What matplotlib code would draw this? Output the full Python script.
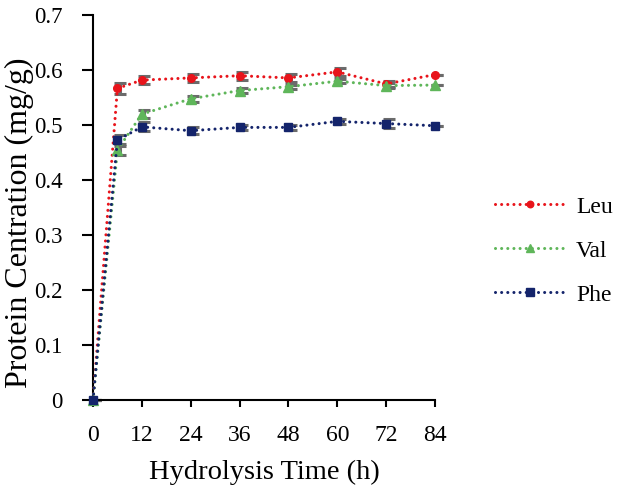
import matplotlib
matplotlib.use("Agg")
import matplotlib.pyplot as plt
import numpy as np

plt.rcParams['font.family'] = ['Liberation Serif', 'DejaVu Serif']

time_h = [0, 6, 12, 24, 36, 48, 60, 72, 84]
leu = [0.0, 0.567, 0.582, 0.586, 0.590, 0.586, 0.597, 0.575, 0.592]
val = [0.0, 0.455, 0.520, 0.548, 0.563, 0.570, 0.580, 0.572, 0.573]
phe = [0.0, 0.473, 0.497, 0.490, 0.496, 0.496, 0.507, 0.503, 0.499]
leu_err = [0.0, 0.010, 0.007, 0.007, 0.007, 0.007, 0.007, 0.005, 0.0]
val_err = [0.0, 0.010, 0.007, 0.005, 0.004, 0.004, 0.004, 0.005, 0.0]
phe_err = [0.0, 0.010, 0.008, 0.006, 0.005, 0.005, 0.005, 0.008, 0.0]
xticks = [0, 12, 24, 36, 48, 60, 72, 84]
yticks = [0, 0.1, 0.2, 0.3, 0.4, 0.5, 0.6, 0.7]

fig = plt.figure(figsize=(6.2, 4.91), dpi=100)
ax = fig.add_axes([0.150, 0.185, 0.5516, 0.784])

series = [("Leu", leu, leu_err, "#e8141b", "o", 5.5),
          ("Val", val, val_err, "#5fb65a", "^", 6.5),
          ("Phe", phe, phe_err, "#14246b", "s", 6)]
t = np.array(time_h)
for name, y, e, c, m, ms in series:
    ax.errorbar(t + 0.6, y, yerr=e, fmt='none', ecolor='#6b6b6b', elinewidth=2.2,
                capsize=4.5, capthick=2.2, zorder=2, clip_on=False)
    ax.plot(t, y, linestyle=(0, (0.01, 2.0)), color=c, lw=2.2, marker=m, ms=ms,
            label=name, zorder=3, clip_on=False, dash_capstyle='round')

ax.set_xlim(0, 84)
ax.set_ylim(0, 0.7)
ax.set_xticks(xticks)
ax.set_yticks(yticks)
ax.set_yticklabels(["0" if v == 0 else f"{v:.1f}" for v in yticks])
for s in ["top", "right"]:
    ax.spines[s].set_visible(False)
for s in ["left", "bottom"]:
    ax.spines[s].set_linewidth(1.5)
ax.tick_params(axis='x', labelsize=17, width=1.5, length=5, direction='out', pad=13)
ax.tick_params(axis='y', labelsize=16.5, width=1.5, length=8, direction='out', pad=14)
ax.set_xlabel("Hydrolysis Time (h)", fontsize=20.5)
ax.xaxis.set_label_coords(0.5, -0.155)
ax.set_ylabel("Protein Centration (mg/g)", fontsize=23)
ax.yaxis.set_label_coords(-0.172, 0.462)

leg = fig.legend(loc='center left', bbox_to_anchor=(0.798, 0.489), frameon=False,
                 fontsize=17, handlelength=3.0, handletextpad=0.45,
                 labelspacing=0.95, borderpad=0, borderaxespad=0, numpoints=1,
                 markerscale=0.85)

fig.savefig("out.png", dpi=100)
